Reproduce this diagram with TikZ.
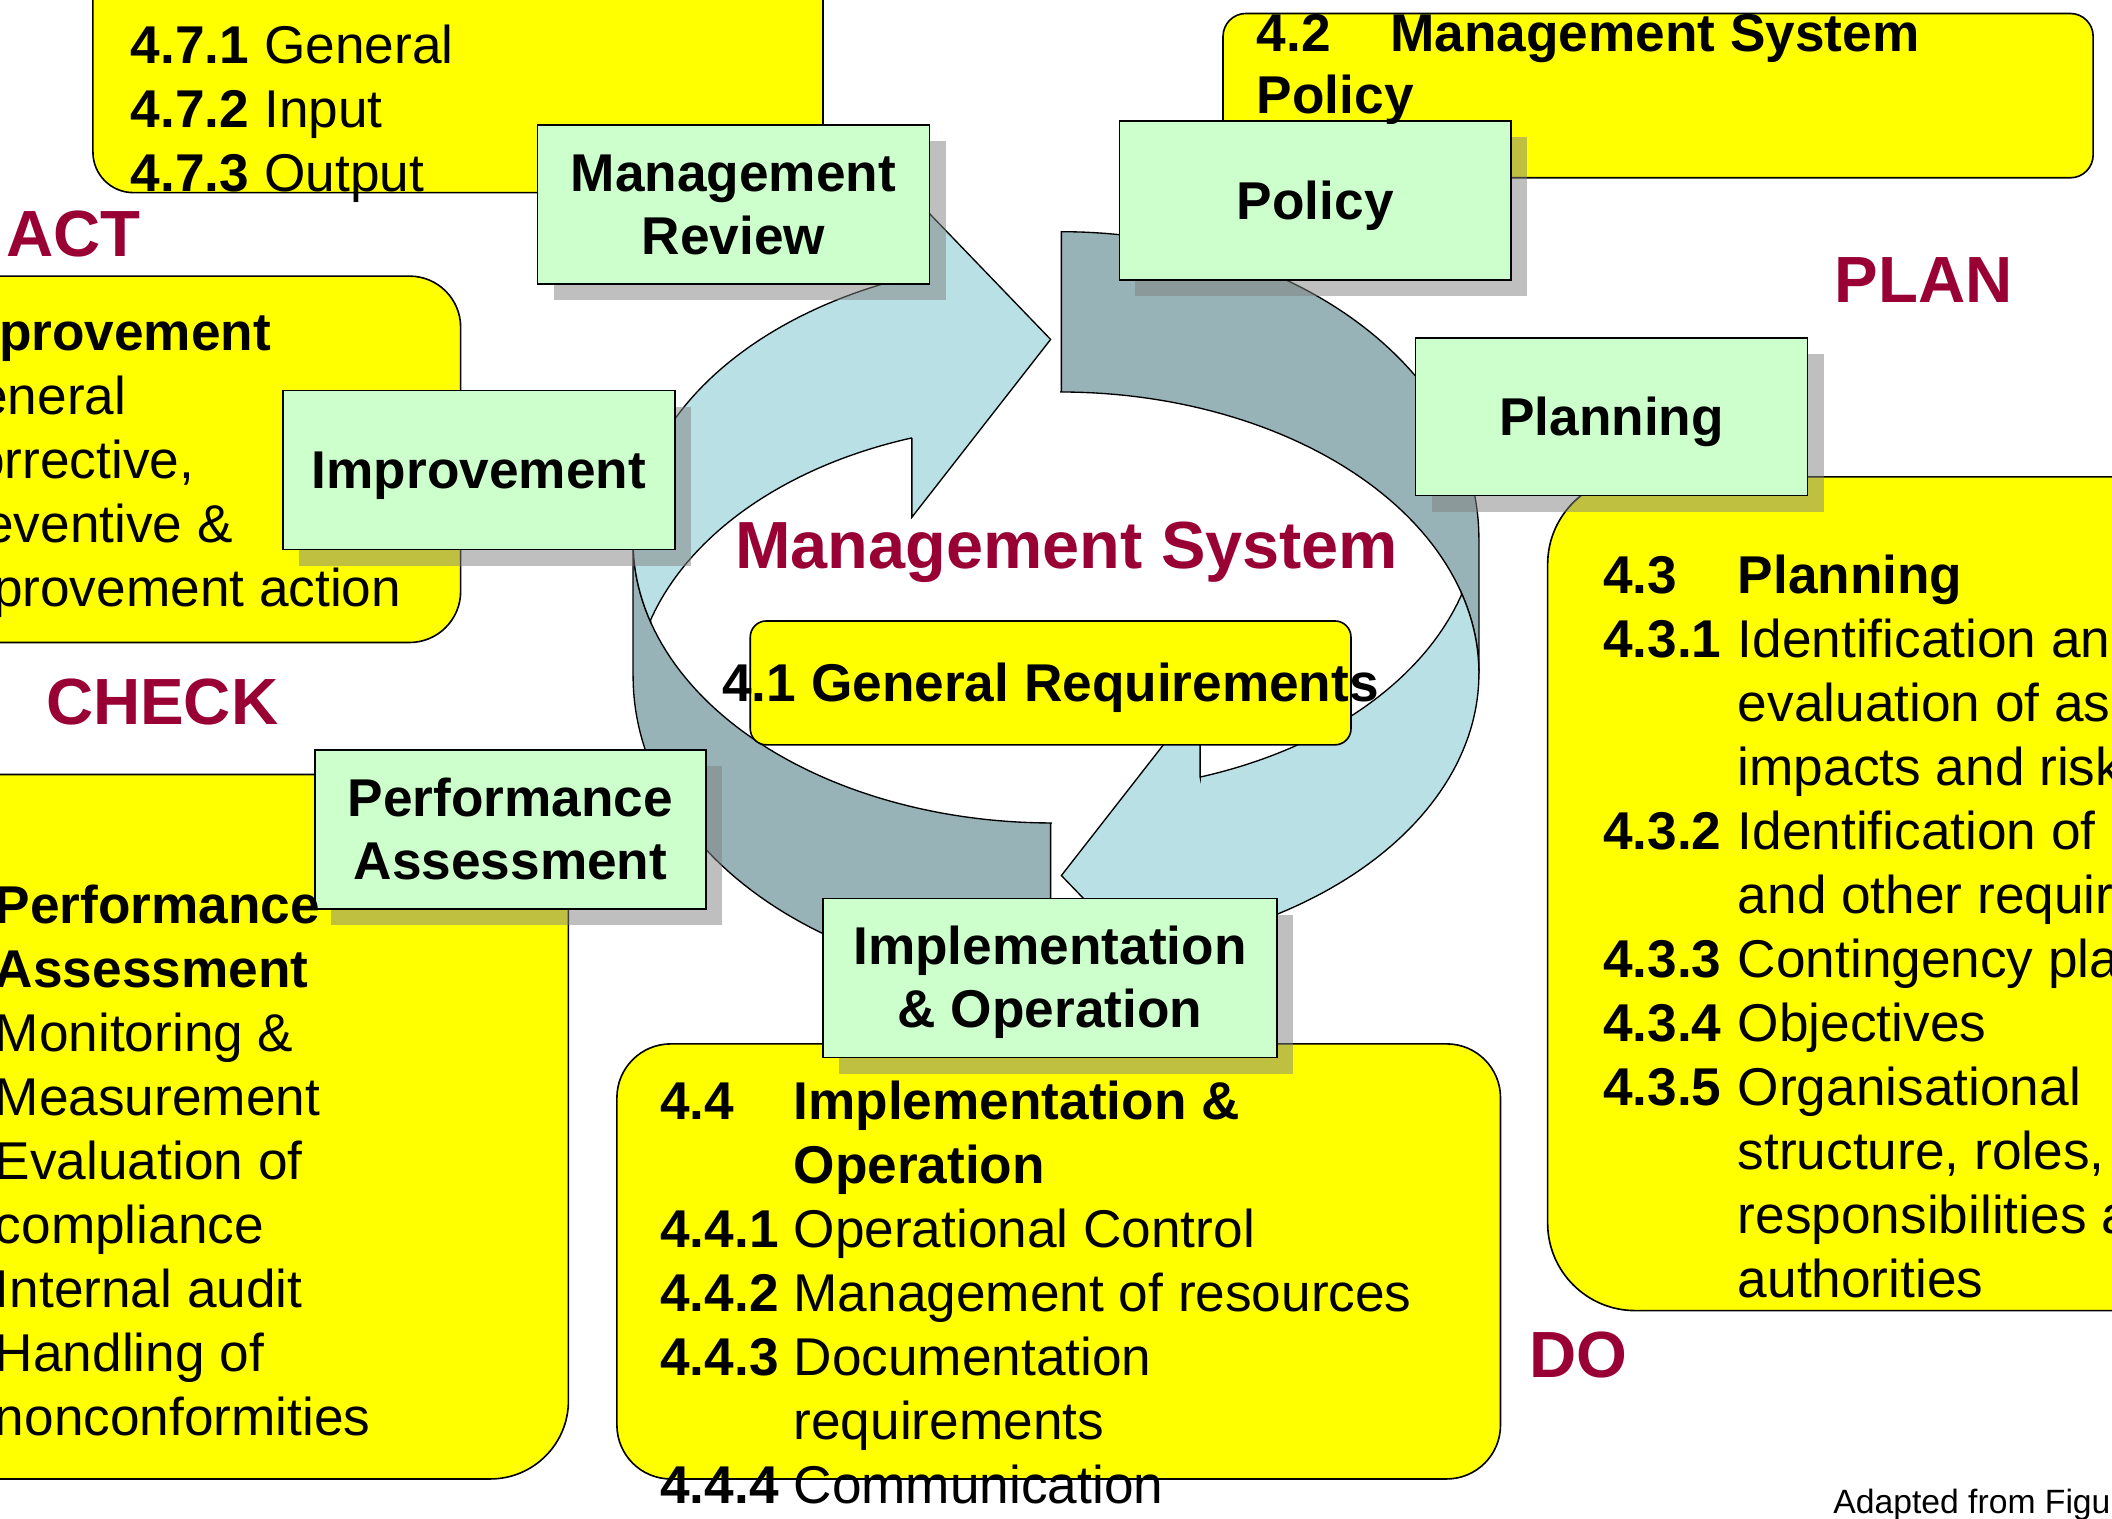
\documentclass[tikz,border=0pt]{standalone}
\usepackage{fontspec}
\setmainfont{Liberation Sans}
\usetikzlibrary{shadows}
\definecolor{yboxc}{RGB}{255,255,0}
\definecolor{gboxc}{RGB}{204,255,204}
\definecolor{lblue}{RGB}{185,224,228}
\definecolor{dblue}{RGB}{151,179,183}
\definecolor{redc}{RGB}{153,0,51}
\newcommand\hst{\rule{0pt}{35.75pt}}
\newcommand\dst{\rule[-8.4pt]{0pt}{8.4pt}}
\newcommand\cycdark[1]{\draw[band,fill=dblue,#1] (780,611) -- (780,730)
  -- plot[domain=90:180,samples=60,variable=\t] ({780+310*cos(\t)},{502+228*sin(\t)})
  -- (470,402)
  -- plot[domain=180:90,samples=60,variable=\t] ({781+311*cos(\t)},{402+209*sin(\t)}) -- cycle;}
\newcommand\cycarrow[1]{\draw[band,fill=lblue,#1]
  plot[domain=163.37:250.5,samples=60,variable=\t] ({781+311*cos(\t)},{402+209*sin(\t)})
  -- (677,145) -- (780,252) -- (677,384) -- (677,325.1)
  -- plot[domain=251.94:196.93,samples=60,variable=\t] ({770+300*cos(\t)},{520+205*sin(\t)}) -- cycle;}
\begin{document}
\begin{tikzpicture}[x=1pt,y=-1pt,
  band/.style={draw=black,line width=1pt,line join=miter},
  ybox/.style={draw=black,line width=1.2pt,fill=yboxc},
  gbox/.style={draw=black,line width=1.2pt,fill=gboxc,inner sep=0pt,
    minimum width=291pt,minimum height=118pt,align=center,
    font=\bfseries\fontsize{39.5}{47}\selectfont,
    drop shadow={shadow xshift=12pt,shadow yshift=-12pt,fill=gray,opacity=0.5}},
  body/.style={inner sep=0pt,anchor=base west,font=\fontsize{39.5}{47.5}\selectfont},
  redlab/.style={inner sep=0pt,anchor=base west,text=redc,font=\bfseries\fontsize{48.5}{58}\selectfont}]
\useasboundingbox (0,0) rectangle (1568,1127);
\clip (0,0) rectangle (1568,1127);
\fill[white] (0,0) rectangle (1568,1127);

% cycle arrows
\cycdark{}
\cycdark{rotate around={180:(784,451)}}
\cycarrow{}
\cycarrow{rotate around={180:(784,451)}}

% yellow boxes
\draw[ybox,rounded corners=30pt] (69,-60) rectangle (611,143);
\draw[ybox,rounded corners=17pt] (908,10) rectangle (1554,132);
\draw[ybox,rounded corners=38pt] (-60,205) rectangle (342,477);
\draw[ybox,rounded corners=58pt] (-60,575) rectangle (422,1098);
\draw[ybox,rounded corners=40pt] (458,775) rectangle (1114,1098);
\draw[ybox,rounded corners=65pt] (1149,354) rectangle (1640,973);
\draw[ybox,rounded corners=12pt] (557,461) rectangle (1003,553);

% green boxes
\node[gbox] (mr) at (544.5,152) {\hst Management\\Review\dst};
\node[gbox] (policy) at (976.5,149) {\hst Policy\dst};
\node[gbox,minimum height=117pt] (planning) at (1196.5,309.5) {\hst Planning\dst};
\node[gbox] (impr) at (355.5,349) {\hst Improvement\dst};
\node[gbox,minimum width=290pt] (pa) at (379,616) {\hst Performance\\Assessment\dst};
\node[gbox,minimum width=337pt] (impl) at (779.5,726) {\hst Implementation\\\&~Operation\dst};

% yellow box texts
\node[body] (t47) at (97,47) {\begin{tabular}[t]{@{}p{99pt}@{}l@{}}
\textbf{4.7.1} & General\\
\textbf{4.7.2} & Input\\
\textbf{4.7.3} & Output\end{tabular}};
\node[body] (t42) at (933,38.5) {\begin{tabular}[t]{@{}p{99pt}@{}l@{}}
\textbf{4.2} & \textbf{Management System}\\[-1.5pt]
\multicolumn{2}{@{}l@{}}{\textbf{Policy}}\end{tabular}};
\node[body] (t45) at (-47,260.3) {\begin{tabular}[t]{@{}l@{}}
\textbf{Improvement}\\
General\\
Corrective,\\
preventive \&\\
improvement action\end{tabular}};
\node[body] (t46) at (-4,685.4) {\begin{tabular}[t]{@{}l@{}}
\textbf{Performance}\\
\textbf{Assessment}\\
Monitoring \&\\
Measurement\\
Evaluation of\\
compliance\\
Internal audit\\
Handling of\\
nonconformities\end{tabular}};
\node[body] (t44) at (490,831.5) {\begin{tabular}[t]{@{}p{99pt}@{}l@{}}
\textbf{4.4} & \textbf{Implementation \&}\\
 & \textbf{Operation}\\
\textbf{4.4.1} & Operational Control\\
\textbf{4.4.2} & Management of resources\\
\textbf{4.4.3} & Documentation\\
 & requirements\\
\textbf{4.4.4} & Communication\end{tabular}};
\node[body] (t43) at (1190,440.6) {\begin{tabular}[t]{@{}p{100pt}@{}l@{}}
\textbf{4.3} & \textbf{Planning}\\
\textbf{4.3.1} & Identification and\\
 & evaluation of aspects,\\
 & impacts and risks\\
\textbf{4.3.2} & Identification of legal\\
 & and other requirements\\
\textbf{4.3.3} & Contingency planning\\
\textbf{4.3.4} & Objectives\\
\textbf{4.3.5} & Organisational\\
 & structure, roles,\\
 & responsibilities and\\
 & authorities\end{tabular}};
\node[inner sep=0pt,anchor=base,font=\bfseries\fontsize{39.5}{47.5}\selectfont] (t41) at (780,520.7) {4.1 General Requirements};

% red labels
\node[redlab] (act) at (4.5,190.4) {ACT};
\node[redlab] (plan) at (1362,224.3) {PLAN};
\node[redlab] (check) at (34,538) {CHECK};
\node[redlab] (do) at (1135,1023) {DO};
\node[redlab,font=\bfseries\fontsize{49.5}{58}\selectfont] (ms) at (545.5,421.9) {Management System};

\node[inner sep=0pt,anchor=base west,font=\fontsize{25}{30}\selectfont] (src) at (1361,1124) {Adapted from Figure};
\end{tikzpicture}
\end{document}
